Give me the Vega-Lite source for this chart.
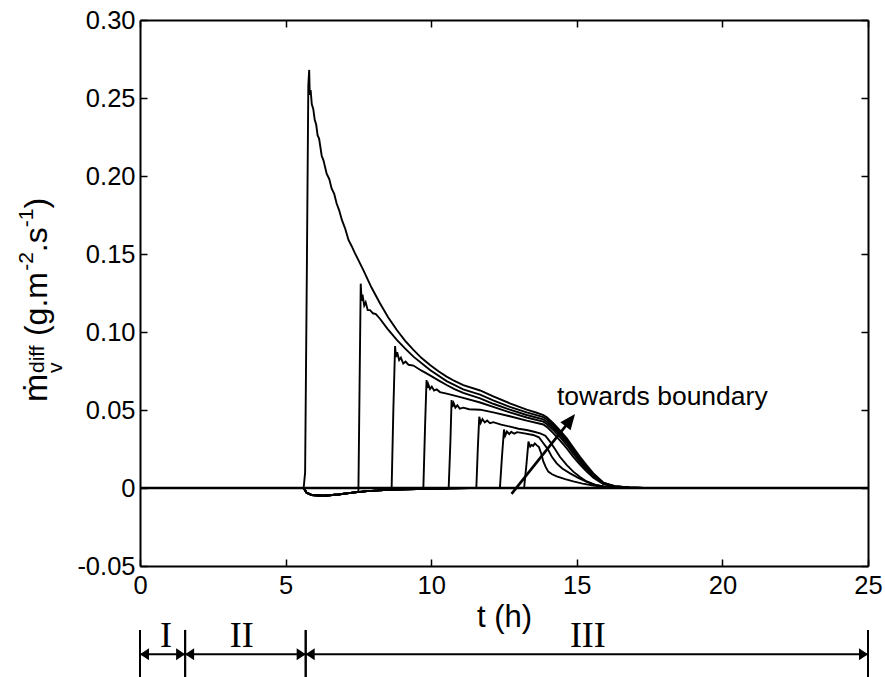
{
  "$schema": "https://vega.github.io/schema/vega-lite/v6.json",
  "width": 728,
  "height": 546,
  "autosize": {"type": "none"},
  "padding": {"left": 140, "top": 20, "right": 17, "bottom": 111},
  "background": "white",
  "config": {
    "view": {"stroke": null},
    "font": "Liberation Sans",
    "axis": {"grid": false, "domainColor": "black", "domainWidth": 2, "tickColor": "black", "tickWidth": 1.5, "tickSize": -7, "labelColor": "black", "labelFont": "Liberation Sans", "labelFontSize": 25.5, "titleColor": "black", "titleFont": "Liberation Sans", "titleFontWeight": "normal"}
  },
  "datasets": {
    "curves": [
      {"c":1,"t":0,"v":0},{"c":1,"t":5.62,"v":0},{"c":1,"t":5.67,"v":0.01},{"c":1,"t":5.73,"v":0.14},{"c":1,"t":5.78,"v":0.258},{"c":1,"t":5.81,"v":0.268},{"c":1,"t":5.83,"v":0.252},{"c":1,"t":5.86,"v":0.255},{"c":1,"t":5.9,"v":0.246},{"c":1,"t":5.95,"v":0.243},{"c":1,"t":6.0,"v":0.236},{"c":1,"t":6.05,"v":0.233},{"c":1,"t":6.1,"v":0.226},{"c":1,"t":6.15,"v":0.224},{"c":1,"t":6.24,"v":0.213},{"c":1,"t":6.3,"v":0.21},{"c":1,"t":6.41,"v":0.2015},{"c":1,"t":6.5,"v":0.198},{"c":1,"t":6.58,"v":0.192},{"c":1,"t":6.67,"v":0.1885},{"c":1,"t":6.75,"v":0.1825},{"c":1,"t":6.84,"v":0.178},{"c":1,"t":6.93,"v":0.172},{"c":1,"t":7.05,"v":0.166},{"c":1,"t":7.16,"v":0.159},{"c":1,"t":7.27,"v":0.155},{"c":1,"t":7.38,"v":0.1506},{"c":1,"t":7.67,"v":0.1397},{"c":1,"t":7.95,"v":0.1285},{"c":1,"t":8.24,"v":0.1184},{"c":1,"t":8.52,"v":0.1095},{"c":1,"t":8.82,"v":0.1013},{"c":1,"t":9.1,"v":0.0945},{"c":1,"t":9.39,"v":0.0885},{"c":1,"t":9.67,"v":0.0833},{"c":1,"t":9.96,"v":0.0788},{"c":1,"t":10.25,"v":0.0748},{"c":1,"t":10.53,"v":0.0714},{"c":1,"t":10.8,"v":0.0686},{"c":1,"t":11.1,"v":0.066},{"c":1,"t":11.68,"v":0.0625},{"c":1,"t":12.13,"v":0.0588},{"c":1,"t":12.7,"v":0.0543},{"c":1,"t":13.28,"v":0.0502},{"c":1,"t":13.6,"v":0.0484},{"c":1,"t":13.85,"v":0.0468},{"c":1,"t":13.97,"v":0.0453},{"c":1,"t":14.19,"v":0.0415},{"c":1,"t":14.42,"v":0.037},{"c":1,"t":14.65,"v":0.032},{"c":1,"t":14.88,"v":0.026},{"c":1,"t":15.11,"v":0.02},{"c":1,"t":15.34,"v":0.0145},{"c":1,"t":15.57,"v":0.0094},{"c":1,"t":15.91,"v":0.0035},{"c":1,"t":16.3,"v":0.0012},{"c":1,"t":16.8,"v":0.0003},{"c":1,"t":17.3,"v":0},{"c":1,"t":25,"v":0},

      {"c":2,"t":0,"v":0},{"c":2,"t":5.62,"v":0},{"c":2,"t":5.72,"v":-0.003},{"c":2,"t":5.9,"v":-0.0045},{"c":2,"t":6.3,"v":-0.005},{"c":2,"t":6.8,"v":-0.0042},{"c":2,"t":7.3,"v":-0.003},{"c":2,"t":7.5,"v":-0.0025},{"c":2,"t":7.54,"v":0.065},{"c":2,"t":7.58,"v":0.131},{"c":2,"t":7.61,"v":0.12},{"c":2,"t":7.64,"v":0.124},{"c":2,"t":7.7,"v":0.117},{"c":2,"t":7.75,"v":0.119},{"c":2,"t":7.82,"v":0.114},{"c":2,"t":7.9,"v":0.114},{"c":2,"t":8.0,"v":0.112},{"c":2,"t":8.1,"v":0.1115},{"c":2,"t":8.24,"v":0.1085},{"c":2,"t":8.5,"v":0.102},{"c":2,"t":8.82,"v":0.0949},{"c":2,"t":9.1,"v":0.0895},{"c":2,"t":9.39,"v":0.0842},{"c":2,"t":9.96,"v":0.0756},{"c":2,"t":10.53,"v":0.0685},{"c":2,"t":11.1,"v":0.0632},{"c":2,"t":11.68,"v":0.0598},{"c":2,"t":12.13,"v":0.0562},{"c":2,"t":12.7,"v":0.052},{"c":2,"t":13.28,"v":0.0485},{"c":2,"t":13.85,"v":0.0455},{"c":2,"t":13.97,"v":0.044},{"c":2,"t":14.19,"v":0.0402},{"c":2,"t":14.42,"v":0.0357},{"c":2,"t":14.65,"v":0.0307},{"c":2,"t":14.88,"v":0.0248},{"c":2,"t":15.11,"v":0.019},{"c":2,"t":15.34,"v":0.0137},{"c":2,"t":15.57,"v":0.0088},{"c":2,"t":15.91,"v":0.0033},{"c":2,"t":16.3,"v":0.0011},{"c":2,"t":16.8,"v":0.0003},{"c":2,"t":17.3,"v":0},{"c":2,"t":25,"v":0},

      {"c":3,"t":0,"v":0},{"c":3,"t":5.62,"v":0},{"c":3,"t":5.72,"v":-0.003},{"c":3,"t":5.9,"v":-0.0045},{"c":3,"t":6.3,"v":-0.005},{"c":3,"t":6.8,"v":-0.0042},{"c":3,"t":7.3,"v":-0.003},{"c":3,"t":7.8,"v":-0.002},{"c":3,"t":8.5,"v":-0.0012},{"c":3,"t":8.64,"v":-0.001},{"c":3,"t":8.7,"v":0.05},{"c":3,"t":8.76,"v":0.091},{"c":3,"t":8.79,"v":0.084},{"c":3,"t":8.83,"v":0.087},{"c":3,"t":8.9,"v":0.082},{"c":3,"t":8.96,"v":0.0835},{"c":3,"t":9.04,"v":0.0798},{"c":3,"t":9.12,"v":0.081},{"c":3,"t":9.22,"v":0.079},{"c":3,"t":9.39,"v":0.0785},{"c":3,"t":9.67,"v":0.0752},{"c":3,"t":9.96,"v":0.0722},{"c":3,"t":10.25,"v":0.069},{"c":3,"t":10.53,"v":0.066},{"c":3,"t":10.8,"v":0.0634},{"c":3,"t":11.1,"v":0.061},{"c":3,"t":11.68,"v":0.0575},{"c":3,"t":12.13,"v":0.054},{"c":3,"t":12.7,"v":0.0502},{"c":3,"t":13.28,"v":0.0468},{"c":3,"t":13.85,"v":0.044},{"c":3,"t":13.97,"v":0.0425},{"c":3,"t":14.19,"v":0.0388},{"c":3,"t":14.42,"v":0.0343},{"c":3,"t":14.65,"v":0.0293},{"c":3,"t":14.88,"v":0.0235},{"c":3,"t":15.11,"v":0.0178},{"c":3,"t":15.34,"v":0.0128},{"c":3,"t":15.57,"v":0.0082},{"c":3,"t":15.91,"v":0.0031},{"c":3,"t":16.3,"v":0.001},{"c":3,"t":16.8,"v":0.0003},{"c":3,"t":17.3,"v":0},{"c":3,"t":25,"v":0},

      {"c":4,"t":0,"v":0},{"c":4,"t":5.62,"v":0},{"c":4,"t":5.72,"v":-0.003},{"c":4,"t":5.9,"v":-0.0045},{"c":4,"t":6.3,"v":-0.005},{"c":4,"t":6.8,"v":-0.0042},{"c":4,"t":7.3,"v":-0.003},{"c":4,"t":7.8,"v":-0.002},{"c":4,"t":8.5,"v":-0.0012},{"c":4,"t":9.5,"v":-0.0006},{"c":4,"t":9.73,"v":-0.0005},{"c":4,"t":9.79,"v":0.04},{"c":4,"t":9.84,"v":0.0692},{"c":4,"t":9.87,"v":0.064},{"c":4,"t":9.9,"v":0.0665},{"c":4,"t":9.96,"v":0.0635},{"c":4,"t":10.02,"v":0.065},{"c":4,"t":10.1,"v":0.0625},{"c":4,"t":10.19,"v":0.0632},{"c":4,"t":10.3,"v":0.0615},{"c":4,"t":10.53,"v":0.0605},{"c":4,"t":10.8,"v":0.0592},{"c":4,"t":11.1,"v":0.0578},{"c":4,"t":11.68,"v":0.0548},{"c":4,"t":12.13,"v":0.052},{"c":4,"t":12.7,"v":0.0485},{"c":4,"t":13.28,"v":0.0452},{"c":4,"t":13.85,"v":0.0425},{"c":4,"t":13.97,"v":0.041},{"c":4,"t":14.19,"v":0.0372},{"c":4,"t":14.42,"v":0.0327},{"c":4,"t":14.65,"v":0.0277},{"c":4,"t":14.88,"v":0.022},{"c":4,"t":15.11,"v":0.0166},{"c":4,"t":15.34,"v":0.0118},{"c":4,"t":15.57,"v":0.0075},{"c":4,"t":15.91,"v":0.0028},{"c":4,"t":16.3,"v":0.001},{"c":4,"t":16.8,"v":0.0003},{"c":4,"t":17.3,"v":0},{"c":4,"t":25,"v":0},

      {"c":5,"t":0,"v":0},{"c":5,"t":5.62,"v":0},{"c":5,"t":5.72,"v":-0.003},{"c":5,"t":5.9,"v":-0.0045},{"c":5,"t":6.3,"v":-0.005},{"c":5,"t":6.8,"v":-0.0042},{"c":5,"t":7.3,"v":-0.003},{"c":5,"t":7.8,"v":-0.002},{"c":5,"t":8.5,"v":-0.0012},{"c":5,"t":9.5,"v":-0.0006},{"c":5,"t":10.5,"v":-0.0003},{"c":5,"t":10.6,"v":0},{"c":5,"t":10.66,"v":0.03},{"c":5,"t":10.7,"v":0.0564},{"c":5,"t":10.73,"v":0.052},{"c":5,"t":10.77,"v":0.0545},{"c":5,"t":10.83,"v":0.0515},{"c":5,"t":10.9,"v":0.053},{"c":5,"t":10.98,"v":0.0508},{"c":5,"t":11.1,"v":0.0515},{"c":5,"t":11.3,"v":0.0505},{"c":5,"t":11.68,"v":0.0502},{"c":5,"t":12.13,"v":0.0485},{"c":5,"t":12.7,"v":0.046},{"c":5,"t":13.28,"v":0.0432},{"c":5,"t":13.85,"v":0.0407},{"c":5,"t":13.97,"v":0.0392},{"c":5,"t":14.19,"v":0.0352},{"c":5,"t":14.42,"v":0.0305},{"c":5,"t":14.65,"v":0.0255},{"c":5,"t":14.88,"v":0.02},{"c":5,"t":15.11,"v":0.015},{"c":5,"t":15.34,"v":0.0105},{"c":5,"t":15.57,"v":0.0066},{"c":5,"t":15.91,"v":0.0025},{"c":5,"t":16.3,"v":0.0009},{"c":5,"t":16.8,"v":0.0002},{"c":5,"t":17.3,"v":0},{"c":5,"t":25,"v":0},

      {"c":6,"t":0,"v":0},{"c":6,"t":5.62,"v":0},{"c":6,"t":5.72,"v":-0.003},{"c":6,"t":5.9,"v":-0.0045},{"c":6,"t":6.3,"v":-0.005},{"c":6,"t":6.8,"v":-0.0042},{"c":6,"t":7.3,"v":-0.003},{"c":6,"t":7.8,"v":-0.002},{"c":6,"t":8.5,"v":-0.0012},{"c":6,"t":9.5,"v":-0.0006},{"c":6,"t":10.5,"v":-0.0003},{"c":6,"t":11.3,"v":0},{"c":6,"t":11.55,"v":0},{"c":6,"t":11.6,"v":0.025},{"c":6,"t":11.65,"v":0.0457},{"c":6,"t":11.7,"v":0.0418},{"c":6,"t":11.76,"v":0.0442},{"c":6,"t":11.84,"v":0.042},{"c":6,"t":11.92,"v":0.0432},{"c":6,"t":12.02,"v":0.0416},{"c":6,"t":12.13,"v":0.0422},{"c":6,"t":12.4,"v":0.0406},{"c":6,"t":12.71,"v":0.0393},{"c":6,"t":13.0,"v":0.038},{"c":6,"t":13.28,"v":0.0372},{"c":6,"t":13.5,"v":0.0362},{"c":6,"t":13.74,"v":0.035},{"c":6,"t":13.92,"v":0.0335},{"c":6,"t":14.08,"v":0.0297},{"c":6,"t":14.25,"v":0.025},{"c":6,"t":14.42,"v":0.02},{"c":6,"t":14.65,"v":0.0148},{"c":6,"t":14.88,"v":0.0105},{"c":6,"t":15.11,"v":0.007},{"c":6,"t":15.34,"v":0.0042},{"c":6,"t":15.6,"v":0.0022},{"c":6,"t":15.91,"v":0.001},{"c":6,"t":16.5,"v":0.0002},{"c":6,"t":17.2,"v":0},{"c":6,"t":25,"v":0},

      {"c":7,"t":0,"v":0},{"c":7,"t":5.62,"v":0},{"c":7,"t":5.72,"v":-0.003},{"c":7,"t":5.9,"v":-0.0045},{"c":7,"t":6.3,"v":-0.005},{"c":7,"t":6.8,"v":-0.0042},{"c":7,"t":7.3,"v":-0.003},{"c":7,"t":7.8,"v":-0.002},{"c":7,"t":8.5,"v":-0.0012},{"c":7,"t":9.5,"v":-0.0006},{"c":7,"t":10.5,"v":-0.0003},{"c":7,"t":11.3,"v":0},{"c":7,"t":12.36,"v":0},{"c":7,"t":12.43,"v":0.02},{"c":7,"t":12.5,"v":0.0375},{"c":7,"t":12.54,"v":0.0335},{"c":7,"t":12.6,"v":0.0362},{"c":7,"t":12.68,"v":0.0345},{"c":7,"t":12.75,"v":0.036},{"c":7,"t":12.85,"v":0.0348},{"c":7,"t":12.95,"v":0.0358},{"c":7,"t":13.05,"v":0.0355},{"c":7,"t":13.2,"v":0.035},{"c":7,"t":13.5,"v":0.034},{"c":7,"t":13.7,"v":0.0325},{"c":7,"t":13.82,"v":0.0295},{"c":7,"t":13.94,"v":0.0265},{"c":7,"t":14.02,"v":0.0244},{"c":7,"t":14.15,"v":0.0198},{"c":7,"t":14.31,"v":0.0158},{"c":7,"t":14.5,"v":0.0125},{"c":7,"t":14.77,"v":0.0094},{"c":7,"t":15.05,"v":0.0065},{"c":7,"t":15.34,"v":0.004},{"c":7,"t":15.65,"v":0.002},{"c":7,"t":16.0,"v":0.0007},{"c":7,"t":16.6,"v":0.0001},{"c":7,"t":17.2,"v":0},{"c":7,"t":25,"v":0},

      {"c":8,"t":0,"v":0},{"c":8,"t":5.62,"v":0},{"c":8,"t":5.72,"v":-0.003},{"c":8,"t":5.9,"v":-0.0045},{"c":8,"t":6.3,"v":-0.005},{"c":8,"t":6.8,"v":-0.0042},{"c":8,"t":7.3,"v":-0.003},{"c":8,"t":7.8,"v":-0.002},{"c":8,"t":8.5,"v":-0.0012},{"c":8,"t":9.5,"v":-0.0006},{"c":8,"t":10.5,"v":-0.0003},{"c":8,"t":11.3,"v":0},{"c":8,"t":13.19,"v":0},{"c":8,"t":13.27,"v":0.015},{"c":8,"t":13.34,"v":0.0297},{"c":8,"t":13.4,"v":0.0265},{"c":8,"t":13.45,"v":0.0276},{"c":8,"t":13.5,"v":0.027},{"c":8,"t":13.56,"v":0.0286},{"c":8,"t":13.62,"v":0.0275},{"c":8,"t":13.7,"v":0.0262},{"c":8,"t":13.78,"v":0.022},{"c":8,"t":13.85,"v":0.017},{"c":8,"t":13.93,"v":0.0135},{"c":8,"t":14.02,"v":0.0105},{"c":8,"t":14.15,"v":0.0088},{"c":8,"t":14.31,"v":0.0075},{"c":8,"t":14.6,"v":0.0057},{"c":8,"t":14.88,"v":0.0042},{"c":8,"t":15.2,"v":0.0028},{"c":8,"t":15.57,"v":0.0016},{"c":8,"t":15.9,"v":0.0008},{"c":8,"t":16.4,"v":0.0002},{"c":8,"t":17,"v":0},{"c":8,"t":25,"v":0}
    ],
    "phases": [
      {"phase": "I", "start": 0, "end": 1.55},
      {"phase": "II", "start": 1.55, "end": 5.69},
      {"phase": "III", "start": 5.69, "end": 25}
    ]
  },
  "resolve": {"axis": {"x": "independent", "y": "independent"}},
  "layer": [
    {
      "data": {"name": "curves"},
      "mark": {"type": "line", "color": "black", "strokeWidth": 1.9, "interpolate": "linear"},
      "encoding": {
        "x": {"field": "t", "type": "quantitative", "scale": {"domain": [0, 25], "nice": false, "zero": false},
          "axis": {"orient": "bottom", "values": [0, 5, 10, 15, 20, 25], "labelPadding": 14, "labelFlush": false, "title": "t (h)", "titleFontSize": 31, "titleY": 60, "titleBaseline": "alphabetic"}},
        "y": {"field": "v", "type": "quantitative", "scale": {"domain": [-0.05, 0.3], "nice": false, "zero": false},
          "axis": {"orient": "left", "values": [-0.05, 0, 0.05, 0.1, 0.15, 0.2, 0.25, 0.3], "labelPadding": 12, "labelFlush": false, "title": null,
            "labelExpr": "datum.value == 0 ? '0' : (datum.value < 0 ? '-' + format(-datum.value, '.2f') : format(datum.value, '.2f'))"}},
        "detail": {"field": "c"}
      }
    },
    {
      "data": {"name": "curves"},
      "mark": {"type": "point", "opacity": 0, "size": 0},
      "encoding": {
        "x": {"field": "t", "type": "quantitative", "axis": {"orient": "top", "values": [0, 5, 10, 15, 20, 25], "labels": false, "title": null}},
        "y": {"field": "v", "type": "quantitative", "axis": {"orient": "right", "values": [-0.05, 0, 0.05, 0.1, 0.15, 0.2, 0.25, 0.3], "labels": false, "title": null}}
      }
    },
    {
      "data": {"values": [{}]},
      "mark": {"type": "rule", "color": "black", "strokeWidth": 2.6},
      "encoding": {"y": {"datum": 0, "type": "quantitative", "axis": null}}
    },
    {
      "data": {"values": [{}]},
      "mark": {"type": "rule", "color": "black", "strokeWidth": 2.6},
      "encoding": {
        "x": {"datum": 12.76, "type": "quantitative", "axis": null},
        "y": {"datum": -0.0038, "type": "quantitative", "axis": null},
        "x2": {"datum": 14.73},
        "y2": {"datum": 0.0424}
      }
    },
    {
      "data": {"values": [{}]},
      "mark": {"type": "point", "shape": "M0,0L-1,2.4L1,2.4Z", "filled": true, "color": "black", "opacity": 1, "size": 169, "angle": 38},
      "encoding": {
        "x": {"datum": 14.94, "type": "quantitative", "axis": null},
        "y": {"datum": 0.0474, "type": "quantitative", "axis": null}
      }
    },
    {
      "data": {"values": [{}]},
      "mark": {"type": "text", "text": "towards boundary", "fontSize": 26.5, "align": "left", "baseline": "alphabetic", "color": "black"},
      "encoding": {
        "x": {"datum": 14.32, "type": "quantitative", "axis": null},
        "y": {"datum": 0.0532, "type": "quantitative", "axis": null}
      }
    },
    {
      "data": {"name": "phases"},
      "mark": {"type": "rule", "color": "black", "strokeWidth": 2},
      "encoding": {
        "x": {"field": "start", "type": "quantitative", "axis": null},
        "y": {"datum": -0.091, "type": "quantitative", "axis": null},
        "y2": {"datum": -0.125}
      }
    },
    {
      "data": {"name": "phases"},
      "mark": {"type": "rule", "color": "black", "strokeWidth": 2},
      "encoding": {
        "x": {"field": "end", "type": "quantitative", "axis": null},
        "y": {"datum": -0.091, "type": "quantitative", "axis": null},
        "y2": {"datum": -0.125}
      }
    },
    {
      "data": {"name": "phases"},
      "mark": {"type": "rule", "color": "black", "strokeWidth": 2},
      "encoding": {
        "x": {"field": "start", "type": "quantitative", "axis": null},
        "x2": {"field": "end"},
        "y": {"datum": -0.1066, "type": "quantitative", "axis": null}
      }
    },
    {
      "data": {"name": "phases"},
      "mark": {"type": "point", "shape": "M0,0L1.5,-1L1.5,1Z", "filled": true, "color": "black", "opacity": 1, "size": 144},
      "encoding": {
        "x": {"field": "start", "type": "quantitative", "axis": null},
        "y": {"datum": -0.1066, "type": "quantitative", "axis": null}
      }
    },
    {
      "data": {"name": "phases"},
      "mark": {"type": "point", "shape": "M0,0L-1.5,-1L-1.5,1Z", "filled": true, "color": "black", "opacity": 1, "size": 144},
      "encoding": {
        "x": {"field": "end", "type": "quantitative", "axis": null},
        "y": {"datum": -0.1066, "type": "quantitative", "axis": null}
      }
    },
    {
      "data": {"values": [{}]},
      "mark": {"type": "text", "text": "I", "font": "Liberation Serif", "fontSize": 36, "align": "center", "baseline": "alphabetic", "color": "black"},
      "encoding": {"x": {"datum": 0.89, "type": "quantitative", "axis": null}, "y": {"datum": -0.1019, "type": "quantitative", "axis": null}}
    },
    {
      "data": {"values": [{}]},
      "mark": {"type": "text", "text": "II", "font": "Liberation Serif", "fontSize": 36, "align": "center", "baseline": "alphabetic", "color": "black"},
      "encoding": {"x": {"datum": 3.49, "type": "quantitative", "axis": null}, "y": {"datum": -0.1019, "type": "quantitative", "axis": null}}
    },
    {
      "data": {"values": [{}]},
      "mark": {"type": "text", "text": "III", "font": "Liberation Serif", "fontSize": 36, "align": "center", "baseline": "alphabetic", "color": "black"},
      "encoding": {"x": {"datum": 15.38, "type": "quantitative", "axis": null}, "y": {"datum": -0.1019, "type": "quantitative", "axis": null}}
    },
    {
      "data": {"values": [{}]},
      "mark": {"type": "text", "text": "ṁ", "fontSize": 34, "angle": 270, "align": "left", "baseline": "alphabetic", "color": "black"},
      "encoding": {"x": {"datum": -3.194, "type": "quantitative", "axis": null}, "y": {"datum": 0.0551, "type": "quantitative", "axis": null}}
    },
    {
      "data": {"values": [{}]},
      "mark": {"type": "text", "text": "v", "fontSize": 21, "angle": 270, "align": "left", "baseline": "alphabetic", "color": "black"},
      "encoding": {"x": {"datum": -2.679, "type": "quantitative", "axis": null}, "y": {"datum": 0.0737, "type": "quantitative", "axis": null}}
    },
    {
      "data": {"values": [{}]},
      "mark": {"type": "text", "text": "diff", "fontSize": 21, "angle": 270, "align": "left", "baseline": "alphabetic", "color": "black"},
      "encoding": {"x": {"datum": -3.297, "type": "quantitative", "axis": null}, "y": {"datum": 0.0737, "type": "quantitative", "axis": null}}
    },
    {
      "data": {"values": [{}]},
      "mark": {"type": "text", "text": "(g.m", "fontSize": 32, "angle": 270, "align": "left", "baseline": "alphabetic", "color": "black"},
      "encoding": {"x": {"datum": -3.194, "type": "quantitative", "axis": null}, "y": {"datum": 0.0974, "type": "quantitative", "axis": null}}
    },
    {
      "data": {"values": [{}]},
      "mark": {"type": "text", "text": "-2", "fontSize": 21, "angle": 270, "align": "left", "baseline": "alphabetic", "color": "black"},
      "encoding": {"x": {"datum": -3.674, "type": "quantitative", "axis": null}, "y": {"datum": 0.1392, "type": "quantitative", "axis": null}}
    },
    {
      "data": {"values": [{}]},
      "mark": {"type": "text", "text": ".s", "fontSize": 32, "angle": 270, "align": "left", "baseline": "alphabetic", "color": "black"},
      "encoding": {"x": {"datum": -3.194, "type": "quantitative", "axis": null}, "y": {"datum": 0.1512, "type": "quantitative", "axis": null}}
    },
    {
      "data": {"values": [{}]},
      "mark": {"type": "text", "text": "-1", "fontSize": 21, "angle": 270, "align": "left", "baseline": "alphabetic", "color": "black"},
      "encoding": {"x": {"datum": -3.674, "type": "quantitative", "axis": null}, "y": {"datum": 0.1672, "type": "quantitative", "axis": null}}
    },
    {
      "data": {"values": [{}]},
      "mark": {"type": "text", "text": ")", "fontSize": 32, "angle": 270, "align": "left", "baseline": "alphabetic", "color": "black"},
      "encoding": {"x": {"datum": -3.194, "type": "quantitative", "axis": null}, "y": {"datum": 0.1792, "type": "quantitative", "axis": null}}
    }
  ]
}
